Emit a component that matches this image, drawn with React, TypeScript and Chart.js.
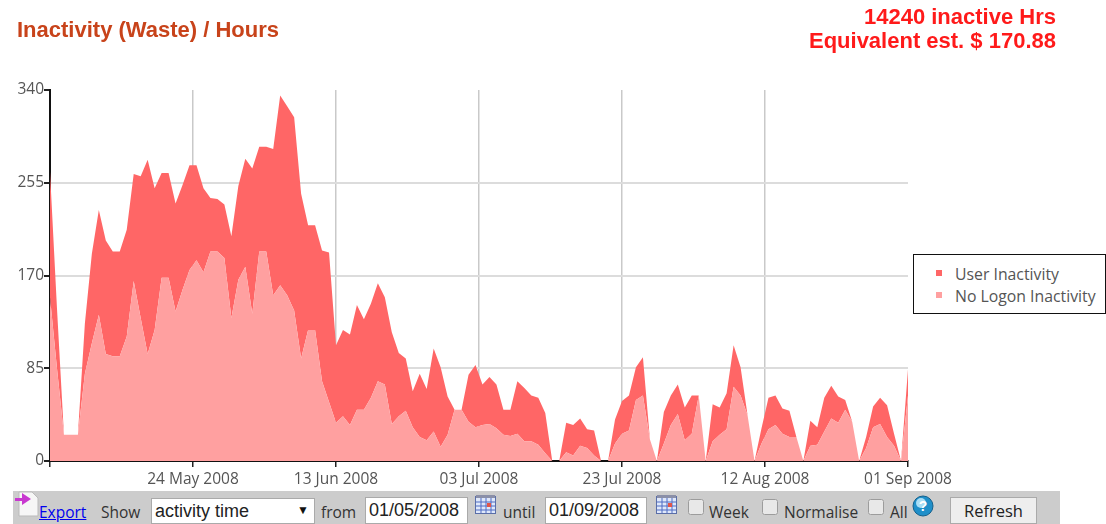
import React, { useEffect, useRef } from "react";
import { Chart, registerables } from "chart.js";

Chart.register(...registerables);

const xTickLabels = ["", "24 May 2008", "13 Jun 2008", "03 Jul 2008", "23 Jul 2008", "12 Aug 2008", "01 Sep 2008"];
const yMax = 340;
const yStep = 85;
const pointCount = 123;

const noLogonInactivity = [
  150, 85, 24, 24, 24, 80, 108, 134, 98, 96, 96, 114, 165, 131, 98, 120, 168, 168, 137, 157,
  175, 184, 173, 192, 192, 186, 131, 166, 178, 135, 192, 192, 152, 161, 152, 138, 94, 120, 120, 73,
  54, 35, 41, 33, 47, 47, 58, 73, 70, 34, 41, 46, 31, 22, 19, 27, 13, 24, 47, 47,
  36, 31, 33, 34, 30, 24, 23, 25, 18, 18, 15, 7, 0, 0, 8, 5, 14, 12, 5, 0,
  0, 16, 25, 28, 56, 60, 20, 0, 16, 33, 43, 19, 25, 60, 0, 18, 24, 29, 68, 60,
  42, 0, 16, 29, 33, 25, 22, 22, 0, 14, 15, 27, 39, 35, 47, 36, 0, 12, 31, 34,
  22, 14, 0, 60,
];

const userInactivity = [
  115, 55, 0, 0, 0, 46, 82, 96, 104, 96, 96, 98, 98, 130, 178, 130, 96, 96, 99, 96,
  96, 87, 77, 49, 48, 49, 75, 86, 99, 133, 96, 96, 134, 174, 173, 177, 151, 96, 96, 120,
  137, 71, 79, 83, 96, 83, 86, 90, 80, 84, 58, 48, 33, 58, 47, 76, 73, 35, 0, 0,
  43, 57, 37, 43, 40, 23, 24, 48, 49, 42, 43, 37, 0, 0, 27, 28, 25, 17, 23, 0,
  0, 22, 30, 32, 30, 35, 0, 0, 29, 27, 27, 30, 35, 0, 0, 34, 25, 33, 38, 26,
  0, 0, 14, 29, 27, 23, 24, 0, 0, 23, 16, 31, 30, 24, 9, 0, 0, 10, 19, 24,
  29, 11, 0, 24,
];

const seriesNames = ["User Inactivity", "No Logon Inactivity"];
const USER_COLOR = "#ff6666";
const NOLOGON_COLOR = "#ffa0a0";
const SANS = "'Liberation Sans', Arial, sans-serif";
const AXIS_FONT = "'Open Sans', sans-serif";

const at = (left: number, top: number, extra: React.CSSProperties = {}): React.CSSProperties => ({
  position: "absolute",
  left,
  top,
  margin: 0,
  whiteSpace: "nowrap",
  boxSizing: "border-box",
  ...extra,
});

function CalendarIcon({ left }: { left: number }) {
  return (
    <svg style={at(left, 494)} width="22" height="21" viewBox="0 0 22 21">
      <rect x="0.5" y="2.5" width="20" height="17" fill="#dfe8fa" stroke="#5a6ea8" />
      <rect x="1" y="1" width="19" height="3" fill="#8a8fa8" />
      <path d="M1 8H20M1 12H20M1 16H20M6 4V19M11 4V19M16 4V19" stroke="#4f6cc4" strokeWidth="1" />
      <rect x="12" y="9" width="4" height="4" fill="#e2554a" />
    </svg>
  );
}

function CheckBox({ left }: { left: number }) {
  return <input type="checkbox" style={at(left, 499, { width: 16, height: 16, opacity: 0.55 })} />;
}

const toolbarText: React.CSSProperties = { fontFamily: AXIS_FONT, fontSize: 15.5, color: "#333" };
const inputStyle: React.CSSProperties = {
  fontFamily: SANS,
  fontSize: 18,
  height: 27,
  padding: "0 3px",
  border: "1px solid #aaa",
  background: "#fff",
  color: "#222",
};

export default function App() {
  const ref = useRef<HTMLCanvasElement>(null);

  useEffect(() => {
    if (!ref.current) return;
    const tickGap = pointCount / (xTickLabels.length - 1);
    const chart = new Chart(ref.current, {
      type: "line",
      data: {
        datasets: [
          {
            label: seriesNames[1],
            data: noLogonInactivity.map((y, x) => ({ x, y })),
            backgroundColor: NOLOGON_COLOR,
            borderWidth: 0,
            pointRadius: 0,
            fill: "origin",
            tension: 0,
          },
          {
            label: seriesNames[0],
            data: userInactivity.map((y, x) => ({ x, y })),
            backgroundColor: USER_COLOR,
            borderWidth: 0,
            pointRadius: 0,
            fill: "-1",
            tension: 0,
          },
        ],
      },
      options: {
        responsive: false,
        animation: false,
        layout: { padding: { left: 0, top: 90, right: 198, bottom: 33 } },
        plugins: { legend: { display: false }, tooltip: { enabled: false } },
        scales: {
          x: {
            type: "linear",
            min: 0,
            max: pointCount,
            afterFit: (s: any) => { s.height = 30; },
            afterBuildTicks: (s: any) => {
              s.ticks = xTickLabels.map((_, i) => ({ value: i * tickGap }));
            },
            border: { color: "#111", width: 2 },
            grid: {
              color: (c: any) => (c.index === 0 || c.index === xTickLabels.length - 1 ? "rgba(0,0,0,0)" : "#c9c9c9"),
              tickColor: "#222",
              tickLength: 6,
              lineWidth: 1.5,
            },
            ticks: {
              autoSkip: false,
              maxRotation: 0,
              padding: 3,
              color: "#555",
              font: { family: AXIS_FONT, size: 15.5 },
              callback: (_: any, i: number) => xTickLabels[i],
            },
          },
          y: {
            stacked: true,
            min: 0,
            max: yMax,
            afterFit: (s: any) => { s.width = 50; },
            border: { color: "#111", width: 2 },
            grid: {
              color: (c: any) => (c.tick.value === 0 || c.tick.value === yMax ? "rgba(0,0,0,0)" : "#dcdcdc"),
              tickColor: "#222",
              tickLength: 6,
              lineWidth: 2,
            },
            ticks: {
              stepSize: yStep,
              padding: 0,
              color: "#555",
              font: { family: AXIS_FONT, size: 15.5 },
            },
          },
        },
      },
    });
    return () => chart.destroy();
  }, []);

  return (
    <div style={{ position: "fixed", left: 0, top: 0, width: 1106, height: 524, overflow: "hidden", background: "#fff" }}>
      <canvas ref={ref} width={1106} height={524} style={at(0, 0, { display: "block" })} />

      <div style={at(17, 17, { fontFamily: SANS, fontWeight: 700, fontSize: 22, color: "#c8431a" })}>
        Inactivity (Waste) / Hours
      </div>
      <div style={at(700, 5, { width: 356, textAlign: "right", fontFamily: SANS, fontWeight: 700, fontSize: 22, lineHeight: "24px", color: "#ff1a1a" })}>
        14240 inactive Hrs
        <br />
        Equivalent est. $ 170.88
      </div>

      <div style={at(913, 254, { width: 193, height: 60, border: "1.5px solid #111", background: "#fff" })}>
        <div style={at(22, 15, { width: 6, height: 6, background: USER_COLOR })} />
        <div style={at(41, 8, { fontFamily: AXIS_FONT, fontSize: 15.8, color: "#555" })}>{seriesNames[0]}</div>
        <div style={at(22, 37, { width: 6, height: 6, background: NOLOGON_COLOR })} />
        <div style={at(41, 30, { fontFamily: AXIS_FONT, fontSize: 15.8, color: "#555" })}>{seriesNames[1]}</div>
      </div>

      <div style={at(13, 491, { width: 1047, height: 33, background: "#cccccc" })} />
      <svg style={at(14, 491)} width="26" height="26" viewBox="0 0 26 26">
        <path d="M5 1H18L24 7V25H5Z" fill="#f6f6f6" stroke="#bbb" />
        <path d="M1 7H8V2L17 8L8 14V10H1Z" fill="#c838d0" />
      </svg>
      <a href="#" style={at(39, 501, { fontFamily: AXIS_FONT, fontSize: 15.5, color: "#0000ee" })}>Export</a>
      <div style={at(101, 501, toolbarText)}>Show</div>
      <select
        defaultValue="activity time"
        style={at(151, 498, { width: 164, height: 26, fontFamily: SANS, fontSize: 18, padding: "0 3px", background: "#fff", border: "1px solid #aaa", color: "#222", appearance: "none" })}
      >
        <option>activity time</option>
      </select>
      <div style={at(297, 503, { fontFamily: SANS, fontSize: 12, color: "#111", pointerEvents: "none" })}>▼</div>
      <div style={at(321, 501, toolbarText)}>from</div>
      <input readOnly value="01/05/2008" style={at(365, 497, { ...inputStyle, width: 103 })} />
      <CalendarIcon left={475} />
      <div style={at(503, 501, toolbarText)}>until</div>
      <input readOnly value="01/09/2008" style={at(545, 497, { ...inputStyle, width: 102 })} />
      <CalendarIcon left={656} />
      <CheckBox left={688} />
      <div style={at(709, 501, toolbarText)}>Week</div>
      <CheckBox left={762} />
      <div style={at(784, 501, toolbarText)}>Normalise</div>
      <CheckBox left={868} />
      <div style={at(890, 501, toolbarText)}>All</div>
      <svg style={at(912, 495)} width="22" height="22" viewBox="0 0 22 22">
        <circle cx="11" cy="11" r="10" fill="#1f8fc9" stroke="#14608c" />
        <circle cx="9" cy="8" r="5" fill="#a9ddf5" />
        <text x="11" y="16" textAnchor="middle" fontFamily={SANS} fontWeight="700" fontSize="14" fill="#fff">?</text>
      </svg>
      <button style={at(950, 497, { width: 87, height: 27, fontFamily: AXIS_FONT, fontSize: 16.5, background: "#eeeeee", border: "1px solid #aaa", color: "#222", padding: 0 })}>
        Refresh
      </button>
    </div>
  );
}
